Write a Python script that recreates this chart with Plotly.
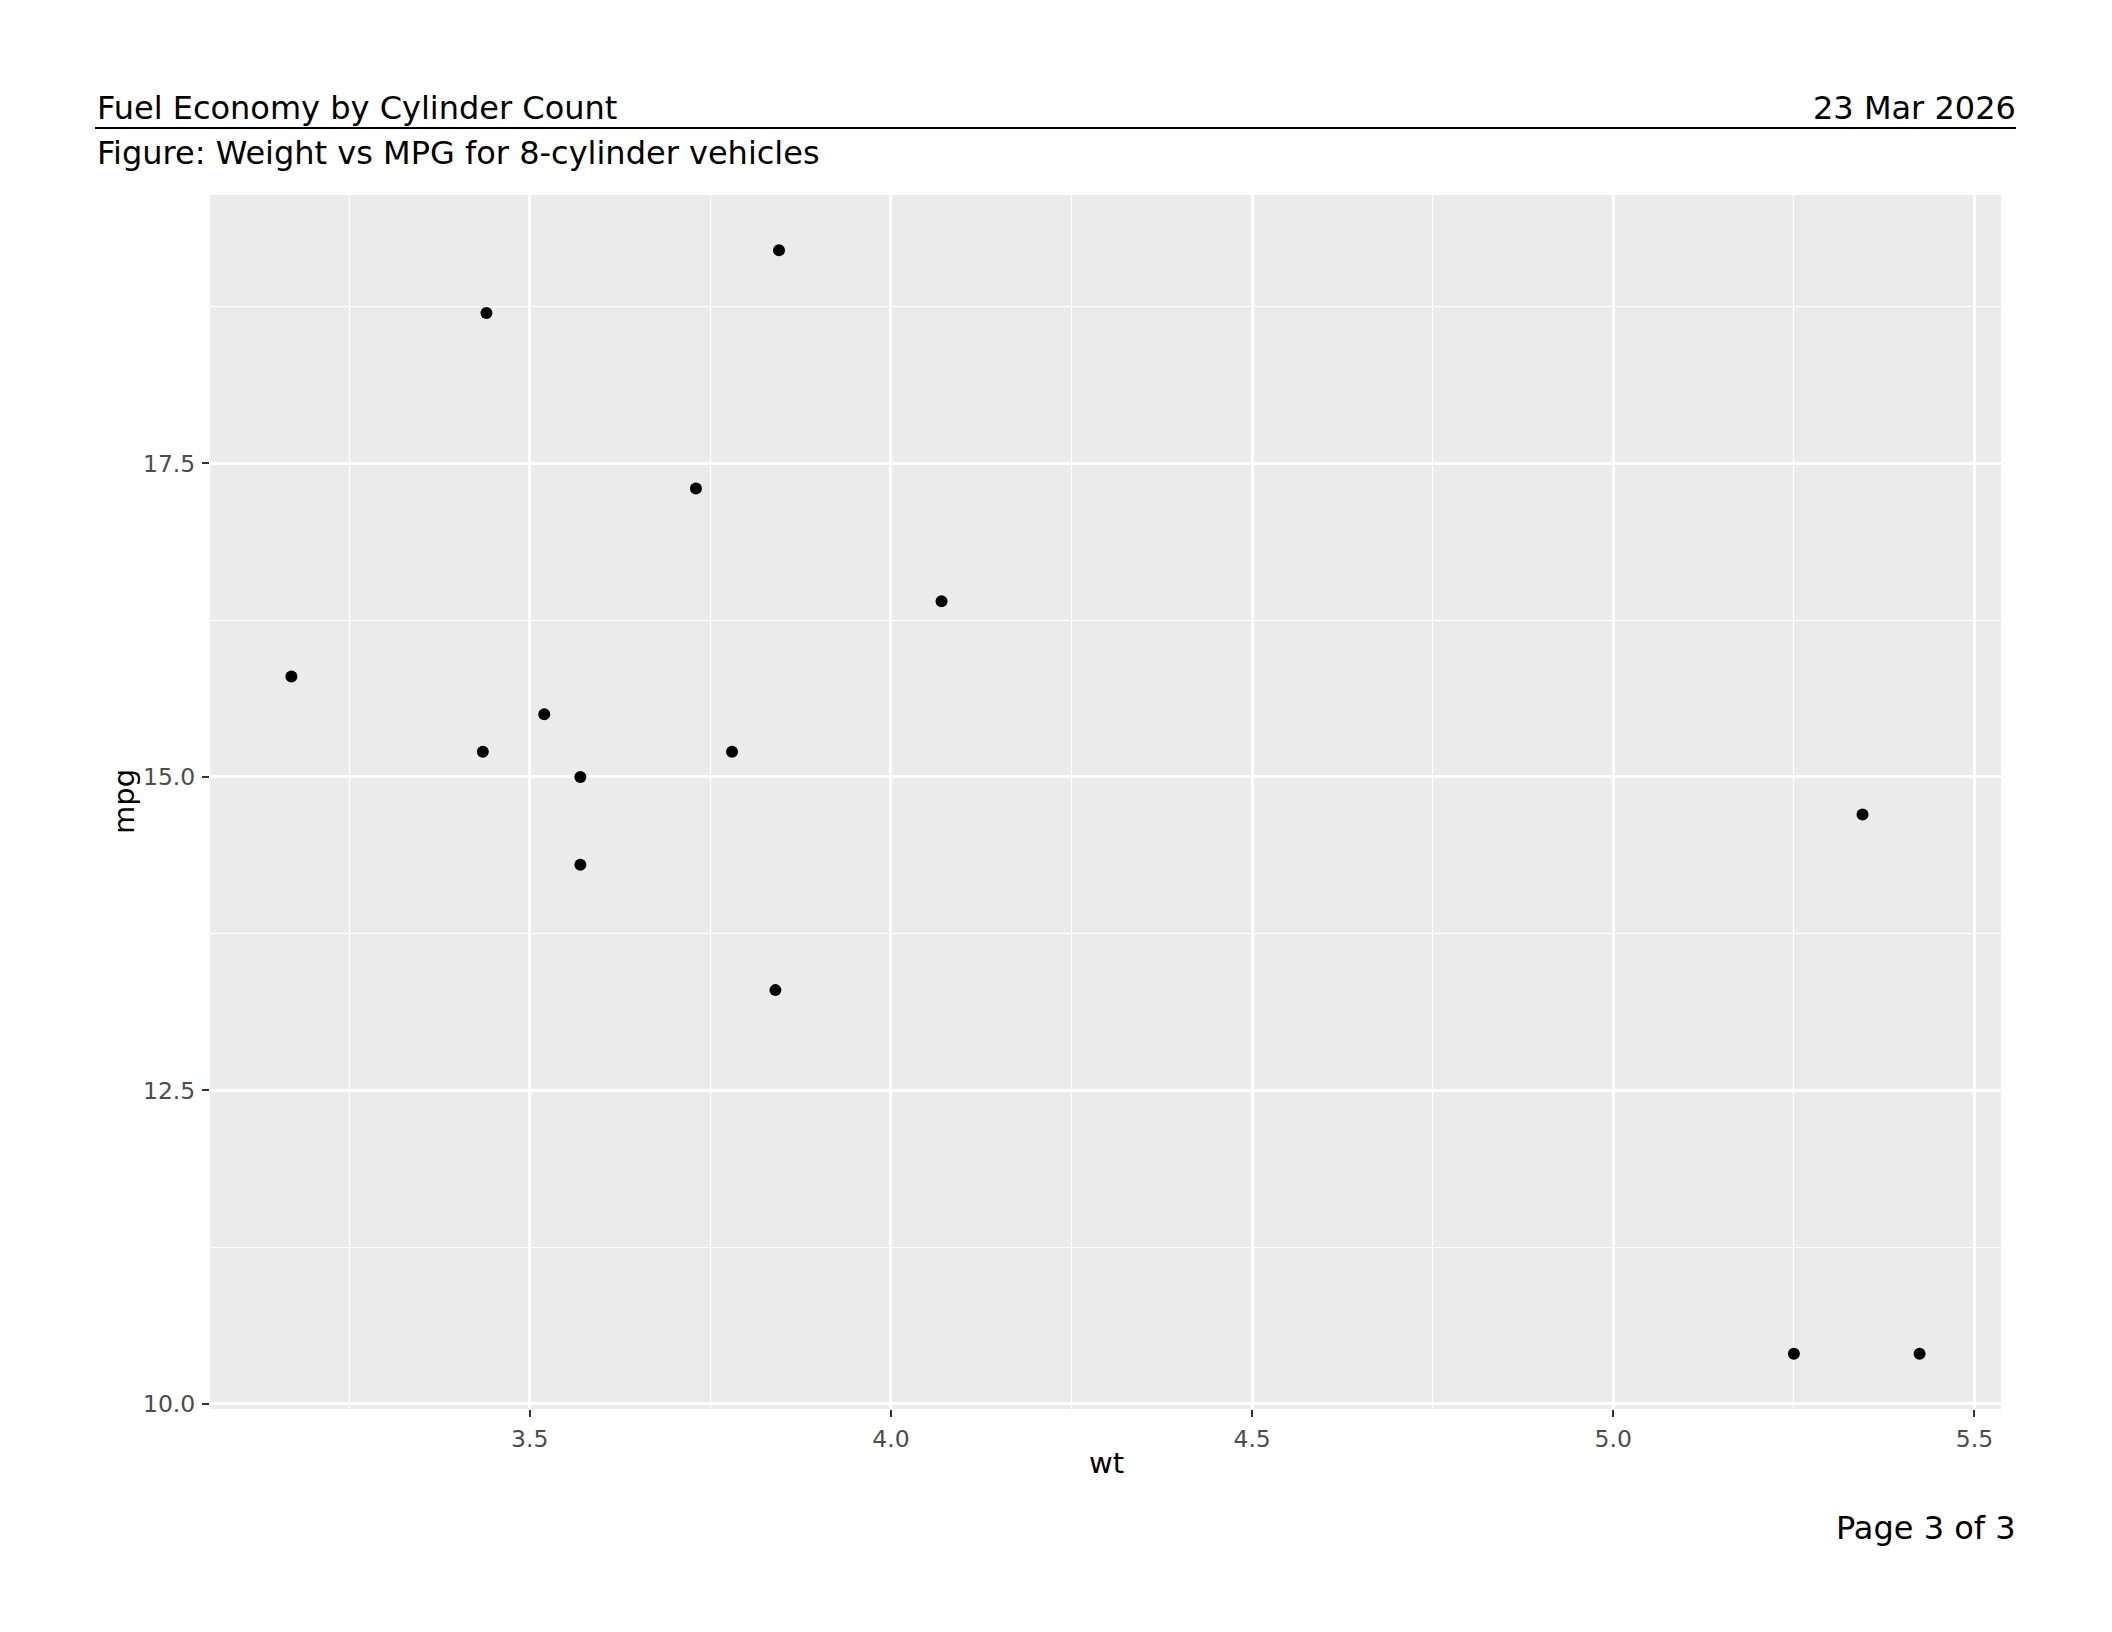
import plotly.graph_objects as go

wt = [3.440, 3.570, 4.070, 3.730, 3.780, 5.250, 5.424, 5.345, 3.520, 3.435, 3.840, 3.845, 3.170, 3.570]
mpg = [18.7, 14.3, 16.4, 17.3, 15.2, 10.4, 10.4, 14.7, 15.5, 15.2, 13.3, 19.2, 15.8, 15.0]

x_ticks = [3.5, 4.0, 4.5, 5.0, 5.5]
x_tick_labels = ["3.5", "4.0", "4.5", "5.0", "5.5"]
y_ticks = [10.0, 12.5, 15.0, 17.5]
y_tick_labels = ["10.0", "12.5", "15.0", "17.5"]

title_text = "Fuel Economy by Cylinder Count"
subtitle_text = "Figure: Weight vs MPG for 8-cylinder vehicles"
date_text = "23 Mar 2026"
page_text = "Page 3 of 3"

W, H = 2112, 1632
L, R, T, B = 210, 2001, 195, 1409

def px(x):
    return (x - L) / (R - L)

def py(y):
    return (B - y) / (B - T)

xr = [min(wt) - 0.05 * (max(wt) - min(wt)), max(wt) + 0.05 * (max(wt) - min(wt))]
yr = [min(mpg) - 0.05 * (max(mpg) - min(mpg)), max(mpg) + 0.05 * (max(mpg) - min(mpg))]

fig = go.Figure()
fig.add_trace(go.Scatter(x=wt, y=mpg, mode="markers",
                         marker=dict(color="black", size=12, line=dict(width=0)),
                         showlegend=False))

font = "DejaVu Sans"
fig.update_layout(
    width=W, height=H,
    margin=dict(l=L, r=W - R, t=T, b=H - B, pad=0),
    paper_bgcolor="white", plot_bgcolor="#EBEBEB",
    font=dict(family=font, color="black"),
    showlegend=False,
)
axis_common = dict(
    showline=False, zeroline=False,
    gridcolor="white", gridwidth=2.6,
    ticks="outside", ticklen=7, tickwidth=2.2, tickcolor="#333333",
    tickfont=dict(family=font, size=23.5, color="#4D4D4D"),
    minor=dict(showgrid=True, gridcolor="white", gridwidth=1.2, ticks=""),
)
fig.update_xaxes(range=xr, tickvals=x_ticks, ticktext=x_tick_labels,
                 minor_tickvals=[3.25, 3.75, 4.25, 4.75, 5.25],
                 ticklabelstandoff=2, **axis_common)
fig.update_yaxes(range=yr, tickvals=y_ticks, ticktext=y_tick_labels,
                 minor_tickvals=[11.25, 13.75, 16.25, 18.75],
                 ticklabelstandoff=2, **axis_common)

ann = []
ann.append(dict(text=title_text, x=px(95), y=py(108), xanchor="left", yanchor="middle",
                font=dict(size=32, family=font, color="black")))
ann.append(dict(text=date_text, x=px(2018), y=py(108), xanchor="right", yanchor="middle",
                font=dict(size=32, family=font, color="black")))
ann.append(dict(text=subtitle_text, x=px(95), y=py(152.5), xanchor="left", yanchor="middle",
                font=dict(size=32, family=font, color="black")))
ann.append(dict(text=page_text, x=px(2018), y=py(1528), xanchor="right", yanchor="middle",
                font=dict(size=32, family=font, color="black")))
ann.append(dict(text="wt", x=px(1106), y=py(1463), xanchor="center", yanchor="middle",
                font=dict(size=29, family=font, color="black")))
ann.append(dict(text="mpg", x=px(124), y=py(802), xanchor="center", yanchor="middle",
                textangle=-90, font=dict(size=29, family=font, color="black")))
for a in ann:
    a.update(xref="paper", yref="paper", showarrow=False)
fig.update_layout(annotations=ann)

fig.add_shape(type="line", xref="paper", yref="paper",
              x0=px(95), x1=px(2016), y0=py(128), y1=py(128),
              line=dict(color="black", width=2))

fig.write_html("out.html", config={"displayModeBar": False},
               post_script="document.body.style.margin='0';")
